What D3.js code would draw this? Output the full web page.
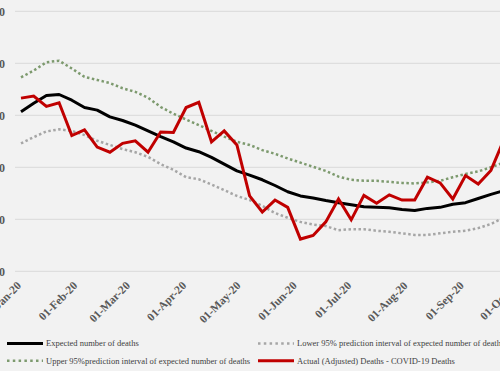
<!DOCTYPE html>
<html>
<head>
<meta charset="utf-8">
<script src="https://cdn.jsdelivr.net/npm/d3@7"></script>
<style>
  html, body { margin: 0; padding: 0; background: #f2f2f2; overflow: hidden; }
  svg { display: block; }
</style>
</head>
<body>
<svg id="chart" width="500" height="371"></svg>
<script>
// ---- Data (weekly, week ending Fridays, 2020) ----
const startDate = "2020-01-03";
const expected = [707, 723, 738, 740, 729, 715, 710, 697, 690, 681, 670, 659, 649, 637, 630, 619, 606, 593, 585, 576, 565, 553, 545, 541, 536, 532, 528, 524, 523, 522, 519, 517, 521, 523, 529, 532, 540, 548, 555];
const upper95 = [773, 786, 802, 805, 790, 774, 768, 762, 752, 745, 734, 716, 703, 692, 681, 670, 659, 649, 643, 633, 626, 617, 609, 601, 593, 582, 576, 574, 574, 572, 570, 569, 571, 574, 581, 587, 592, 600, 609];
const lower95 = [646, 658, 669, 673, 670, 662, 651, 643, 635, 629, 620, 606, 595, 581, 577, 567, 556, 545, 537, 526, 512, 503, 495, 490, 487, 479, 481, 481, 478, 476, 473, 470, 470, 473, 476, 478, 483, 491, 503];
const actual = [733, 737, 717, 724, 661, 672, 639, 629, 646, 651, 629, 668, 667, 715, 725, 649, 670, 643, 545, 514, 537, 523, 462, 469, 495, 539, 499, 546, 531, 547, 537, 537, 581, 570, 539, 584, 568, 594, 652];
const yTicks = [400, 500, 600, 700, 800, 900];
const xTickStart = "2020-01-01";
const xTickEnd = "2020-10-01";
const legendLabels = [
  "Expected number of deaths",
  "Lower 95% prediction interval of expected number of deaths",
  "Upper 95%prediction interval of expected number of deaths",
  "Actual (Adjusted) Deaths - COVID-19 Deaths"
];

// ---- Setup ----
const svg = d3.select("#chart");
const W = 500, H = 371;
svg.append("rect").attr("width", W).attr("height", H).attr("fill", "#f2f2f2");

const parse = d3.utcParse("%Y-%m-%d");
const t0 = parse(startDate);
const dates = actual.map((_, i) => d3.utcDay.offset(t0, 7 * i));

const x = d3.scaleUtc()
  .domain([parse(xTickStart), parse(xTickEnd)])
  .range([17.37, 514.5]);
const y = d3.scaleLinear().domain([400, 900]).range([271.3, 11.3]);

// gridlines
svg.append("g").selectAll("line").data(yTicks).join("line")
  .attr("x1", 15).attr("x2", W + 20)
  .attr("y1", d => y(d)).attr("y2", d => y(d))
  .attr("stroke", "#d9d9d9").attr("stroke-width", 1);

// y axis labels (partly outside the picture, as in the original crop)
const yAxis = d3.axisLeft(y).tickValues(yTicks).tickSize(0).tickPadding(0);
const yg = svg.append("g").attr("transform", "translate(5,0)").call(yAxis);
yg.select(".domain").remove();
yg.selectAll("text")
  .attr("font-family", "'Liberation Serif', 'Times New Roman', serif")
  .attr("font-size", 12).attr("font-weight", "bold").attr("fill", "#595959");

// x axis labels
const xTicks = d3.utcMonth.range(parse(xTickStart), d3.utcDay.offset(parse(xTickEnd), 1));
const xAxis = d3.axisBottom(x).tickValues(xTicks).tickFormat(d3.utcFormat("%d-%b-%y")).tickSize(0);
const xg = svg.append("g").attr("transform", "translate(0,271.3)").call(xAxis);
xg.select(".domain").remove();
xg.selectAll("text")
  .attr("font-family", "'Liberation Serif', 'Times New Roman', serif")
  .attr("font-size", 11.5).attr("font-weight", "bold").attr("fill", "#595959")
  .attr("text-anchor", "end")
  .attr("y", 0).attr("dy", 0)
  .attr("transform", "translate(4,15) rotate(-45)");

// lines
const mk = arr => d3.line().x((d, i) => x(dates[i])).y(d => y(d))(arr);

svg.append("path").attr("d", mk(lower95)).attr("fill", "none")
  .attr("stroke", "#a6a6a6").attr("stroke-width", 2.5).attr("stroke-dasharray", "2.5 2.5");
svg.append("path").attr("d", mk(upper95)).attr("fill", "none")
  .attr("stroke", "#7d9a6e").attr("stroke-width", 2.5).attr("stroke-dasharray", "2.5 2.5");
svg.append("path").attr("d", mk(expected)).attr("fill", "none")
  .attr("stroke", "#000000").attr("stroke-width", 3).attr("stroke-linejoin", "round");
svg.append("path").attr("d", mk(actual)).attr("fill", "none")
  .attr("stroke", "#c00000").attr("stroke-width", 3).attr("stroke-linejoin", "miter");

// legend
const legend = [
  { label: legendLabels[0], x: 7, y: 343.5, color: "#000000", dash: null, w: 3 },
  { label: legendLabels[1], x: 258, y: 343.5, color: "#a6a6a6", dash: "2.5 3.3", w: 2.5 },
  { label: legendLabels[2], x: 7, y: 360.7, color: "#7d9a6e", dash: "2.5 3.3", w: 2.5 },
  { label: legendLabels[3], x: 258, y: 360.7, color: "#c00000", dash: null, w: 3 }
];
const lg = svg.append("g").selectAll("g").data(legend).join("g");
lg.append("line")
  .attr("x1", d => d.x).attr("x2", d => d.x + 36)
  .attr("y1", d => d.y).attr("y2", d => d.y)
  .attr("stroke", d => d.color).attr("stroke-width", d => d.w)
  .attr("stroke-dasharray", d => d.dash);
lg.append("text")
  .attr("x", d => d.x + 39).attr("y", d => d.y).attr("dy", "0.33em")
  .attr("font-family", "'Liberation Serif', 'Times New Roman', serif")
  .attr("font-size", 8.5).attr("fill", "#404040")
  .text(d => d.label);
</script>
</body>
</html>
